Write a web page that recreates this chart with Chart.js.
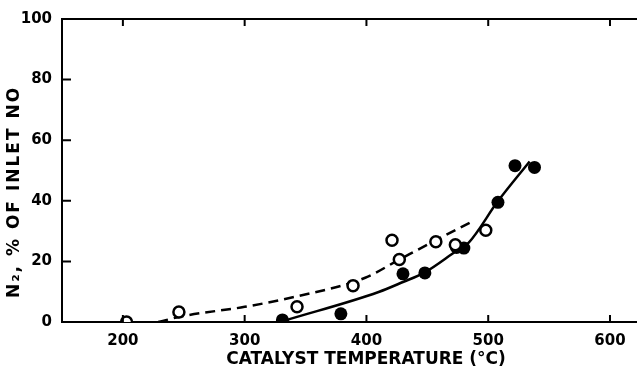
<!DOCTYPE html>
<html>
<head>
<meta charset="utf-8">
<script src="https://cdn.jsdelivr.net/npm/chart.js@4.4.1/dist/chart.umd.min.js"></script>
<style>
  html, body { margin: 0; padding: 0; background: #fff; overflow: hidden; }
  #wrap { width: 646px; height: 370px; }
</style>
</head>
<body>
<div id="wrap"><canvas id="chart" width="646" height="370"></canvas></div>
<script>
// catalyst temperature (deg C) vs N2 as % of inlet NO
const openTemp = [203, 246, 343, 389, 421, 427, 457, 473, 498];
const openN2 = [0, 3.3, 5, 12, 27, 20.6, 26.5, 25.5, 30.3];

const filledTemp = [331, 379, 430, 448, 474, 480, 508, 522, 538];
const filledN2 = [0.7, 2.7, 15.9, 16.2, 24.6, 24.4, 39.5, 51.6, 51];

// hand-drawn fit curves
const dashTemp = [229, 250, 300, 341, 399, 427, 457, 485];
const dashN2 = [0, 2, 5, 8.3, 14.6, 20.6, 27, 32.8];

const solidTemp = [334, 410, 430, 448, 474, 484, 508, 534];
const solidN2 = [0.6, 9.9, 13.2, 16.4, 23.5, 26.2, 39.9, 53];

const xTickValues = [200, 300, 400, 500, 600];
const yTickValues = [0, 20, 40, 60, 80, 100];

const xTitle = 'CATALYST TEMPERATURE (°C)';
const yTitle = 'N₂, % OF INLET NO';

const toPts = (xs, ys) => xs.map((x, i) => ({ x: x, y: ys[i] }));

const FONT = 'DejaVu Sans';

// inward ticks, top frame line and axis titles
const framePlugin = {
  id: 'frame',
  afterDraw(chart) {
    const ctx = chart.ctx;
    const { left, right, top, bottom } = chart.chartArea;
    const xs = chart.scales.x;
    const ys = chart.scales.y;
    ctx.save();
    ctx.strokeStyle = '#000';
    ctx.lineWidth = 2;
    ctx.beginPath();
    ctx.moveTo(left - 1, top);
    ctx.lineTo(right, top);
    xTickValues.forEach(v => {
      const px = xs.getPixelForValue(v);
      ctx.moveTo(px, bottom);
      ctx.lineTo(px, bottom - 7);
      ctx.moveTo(px, top);
      ctx.lineTo(px, top + 7);
    });
    yTickValues.slice(1, -1).forEach(v => {
      const py = ys.getPixelForValue(v);
      ctx.moveTo(left, py);
      ctx.lineTo(left + 9, py);
    });
    ctx.stroke();

    ctx.fillStyle = '#000';
    ctx.font = 'bold 17px "' + FONT + '"';
    ctx.textAlign = 'center';
    ctx.textBaseline = 'middle';
    ctx.fillText(xTitle, 366, 360);

    ctx.letterSpacing = '2px';
    ctx.translate(15, 192);
    ctx.rotate(-Math.PI / 2);
    ctx.fillText(yTitle, 0, 0);
    ctx.restore();
  }
};

const ctx = document.getElementById('chart').getContext('2d');
new Chart(ctx, {
  type: 'scatter',
  data: {
    datasets: [
      {
        label: 'open',
        data: toPts(openTemp, openN2),
        pointStyle: 'circle',
        pointRadius: 5.5,
        pointBorderWidth: 2.5,
        pointBorderColor: '#000',
        pointBackgroundColor: '#fff',
        showLine: false
      },
      {
        label: 'filled',
        data: toPts(filledTemp, filledN2),
        pointStyle: 'circle',
        pointRadius: 6.5,
        pointBorderWidth: 0,
        pointBackgroundColor: '#000',
        showLine: false
      },
      {
        label: 'dash fit',
        data: toPts(dashTemp, dashN2),
        showLine: true,
        borderColor: '#000',
        borderWidth: 2.5,
        borderDash: [10, 6],
        cubicInterpolationMode: 'monotone',
        pointRadius: 0
      },
      {
        label: 'solid fit',
        data: toPts(solidTemp, solidN2),
        showLine: true,
        borderColor: '#000',
        borderWidth: 2.5,
        cubicInterpolationMode: 'monotone',
        pointRadius: 0
      }
    ]
  },
  options: {
    responsive: false,
    animation: false,
    layout: { padding: { top: 16, right: 0, left: 0, bottom: 0 } },
    plugins: {
      legend: { display: false },
      tooltip: { enabled: false }
    },
    scales: {
      x: {
        type: 'linear',
        min: 150,
        max: 623,
        afterBuildTicks: s => { s.ticks = xTickValues.map(v => ({ value: v })); },
        afterFit: s => { s.height = 48; },
        grid: { display: false, drawTicks: false },
        border: { display: true, color: '#000', width: 2 },
        ticks: {
          padding: 10,
          color: '#000',
          font: { family: FONT, weight: 'bold', size: 15 }
        }
      },
      y: {
        type: 'linear',
        min: 0,
        max: 100,
        afterBuildTicks: s => { s.ticks = yTickValues.map(v => ({ value: v })); },
        afterFit: s => { s.width = 62; },
        grid: { display: false, drawTicks: false },
        border: { display: true, color: '#000', width: 2 },
        ticks: {
          padding: 10,
          color: '#000',
          font: { family: FONT, weight: 'bold', size: 15 }
        }
      }
    }
  },
  plugins: [framePlugin]
});
</script>
</body>
</html>
